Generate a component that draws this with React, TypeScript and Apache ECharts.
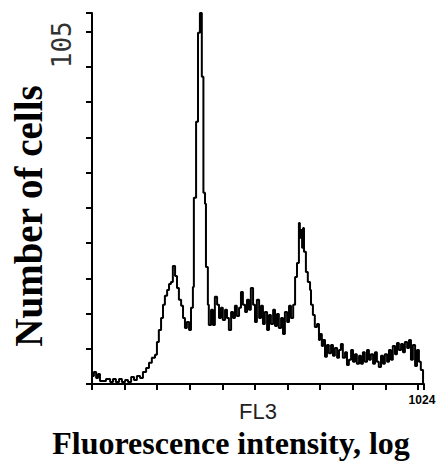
import React, { useEffect, useRef } from "react";
import * as echarts from "echarts";

// Fluorescence channel (FL3, 0..1024) and cell counts
const channels = [
  0, 6, 13, 19, 25, 31, 44, 57, 66, 75, 85, 94, 104, 113, 123, 132, 141, 151, 160, 170,
  179, 188, 198, 204, 210, 217, 223, 229, 236, 242, 248, 254, 261, 267, 273, 280, 286, 292, 298, 305,
  311, 317, 320, 327, 333, 339, 345, 350, 355, 358, 364, 367, 374, 380, 386, 393, 399, 405, 411, 418,
  424, 430, 437, 443, 449, 455, 462, 468, 474, 481, 487, 493, 499, 506, 512, 518, 525, 531, 537, 543,
  550, 556, 562, 569, 575, 581, 587, 594, 600, 606, 613, 619, 625, 632, 638, 644, 650, 653, 657, 660,
  663, 666, 672, 678, 685, 688, 694, 700, 707, 713, 716, 722, 726, 732, 738, 744, 751, 757, 763, 770,
  776, 782, 788, 795, 801, 807, 814, 820, 826, 832, 839, 845, 851, 857, 864, 870, 876, 883, 889, 895,
  901, 908, 914, 920, 927, 933, 939, 945, 952, 958, 964, 971, 977, 983, 990, 996, 1002, 1008, 1015, 1021,
  1027, 1033, 1040, 1043,
];
const counts = [
  3.6, 2.4, 3.6, 1.8, 3.0, 0.9, 0.9, 1.5, 0.6, 1.5, 0.6, 1.5, 0.6, 1.2, 0.6, 2.1, 1.2, 2.4, 1.8, 3.6,
  4.8, 6.3, 7.8, 8.7, 12.5, 16.1, 19.7, 23.6, 26.3, 28.0, 29.8, 30.4, 35.2, 32.2, 28.6, 25.1, 23.3, 19.7, 16.7, 18.5,
  16.1, 22.7, 28.9, 55.5, 78.2, 104.7, 110.6, 91.6, 57.0, 53.7, 34.9, 23.6, 17.6, 22.1, 17.6, 26.0, 23.6, 19.7, 22.7, 19.1,
  22.1, 19.7, 16.1, 21.5, 19.7, 23.3, 20.3, 22.7, 27.4, 23.6, 21.5, 25.1, 22.1, 28.6, 23.6, 18.5, 25.1, 19.7, 23.3, 17.9,
  21.5, 16.1, 20.6, 17.9, 22.1, 17.3, 20.9, 16.7, 19.7, 14.9, 21.5, 18.5, 23.3, 19.7, 23.6, 31.9, 36.1, 48.0, 43.6, 45.9,
  40.6, 46.5, 39.4, 33.4, 30.4, 28.0, 23.6, 20.6, 17.0, 17.9, 13.1, 14.9, 11.3, 13.1, 8.1, 11.6, 9.2, 11.6, 8.4, 10.7,
  7.8, 10.1, 11.9, 7.8, 9.5, 5.7, 7.2, 10.1, 6.6, 8.9, 6.0, 8.4, 6.0, 9.5, 6.6, 10.1, 7.2, 8.9, 6.0, 9.5,
  6.6, 5.1, 8.4, 6.0, 8.9, 6.6, 10.1, 7.2, 11.3, 8.9, 12.2, 10.1, 11.9, 9.5, 12.5, 10.7, 13.1, 7.2, 11.6, 5.4,
  10.1, 6.6, 4.2, 0,
];

const yLabelValues = [105];
const xLabelValues = [1024];
const xAxisName = "FL3";
const yTitle = "Number of cells";
const xTitle = "Fluorescence intensity, log";

export default function App() {
  const ref = useRef<HTMLDivElement>(null);
  useEffect(() => {
    if (!ref.current) return;
    const chart = echarts.init(ref.current, null, { renderer: "svg" });
    const data = channels.map((c, i) => [c, counts[i]]);
    chart.setOption({
      animation: false,
      backgroundColor: "#ffffff",
      grid: { left: 92, right: 16, top: 13, bottom: 79 },
      xAxis: {
        type: "value",
        min: 0,
        max: 1043,
        interval: 102.4,
        name: xAxisName,
        nameLocation: "middle",
        nameGap: 16,
        nameMoveOverlap: false,
        nameTextStyle: { fontFamily: "Liberation Sans", fontSize: 22, color: "#222" },
        axisLine: { show: true, lineStyle: { color: "#000", width: 2 } },
        axisTick: { show: true, inside: false, length: 6, lineStyle: { color: "#000", width: 2 } },
        splitLine: { show: false },
        axisLabel: {
          margin: 10,
          fontFamily: "Liberation Sans",
          fontSize: 12,
          fontWeight: "bold",
          color: "#000",
          padding: [0, 0, 0, 8],
          formatter: (v: number) =>
            xLabelValues.some((x) => Math.abs(x - v) < 0.5) ? String(Math.round(v)) : "",
        },
      },
      yAxis: {
        type: "value",
        min: 0,
        max: 110.6,
        interval: 10.5,
        axisLine: { show: true, lineStyle: { color: "#000", width: 2 } },
        axisTick: { show: true, inside: false, length: 6, lineStyle: { color: "#000", width: 2 } },
        splitLine: { show: false },
        axisLabel: {
          rotate: 90,
          margin: 17,
          fontFamily: "DejaVu Sans Mono",
          fontSize: 26,
          color: "#333",
          padding: [0, 26, 0, 0],
          formatter: (v: number) =>
            yLabelValues.some((y) => Math.abs(y - v) < 0.01) ? String(Math.round(v)) : "",
        },
      },
      series: [
        {
          type: "line",
          data,
          step: "start",
          showSymbol: false,
          lineStyle: { color: "#000", width: 2 },
          clip: true,
        },
      ],
      graphic: [
        {
          type: "line",
          shape: { x1: 86, y1: 13, x2: 92, y2: 13 },
          style: { stroke: "#000", lineWidth: 2 },
        },
        {
          type: "text",
          x: 28,
          y: 216,
          rotation: Math.PI / 2,
          style: {
            text: yTitle,
            fontFamily: "Liberation Serif",
            fontWeight: "bold",
            fontSize: 39,
            fill: "#000",
            textAlign: "center",
            textVerticalAlign: "middle",
          },
        },
        {
          type: "text",
          x: 231,
          y: 443,
          style: {
            text: xTitle,
            fontFamily: "Liberation Serif",
            fontWeight: "bold",
            fontSize: 32,
            fill: "#000",
            textAlign: "center",
            textVerticalAlign: "middle",
          },
        },
      ],
    });
    return () => chart.dispose();
  }, []);
  return (
    <div
      ref={ref}
      style={{ position: "fixed", left: 0, top: 0, width: 440, height: 463, background: "#fff" }}
    />
  );
}
